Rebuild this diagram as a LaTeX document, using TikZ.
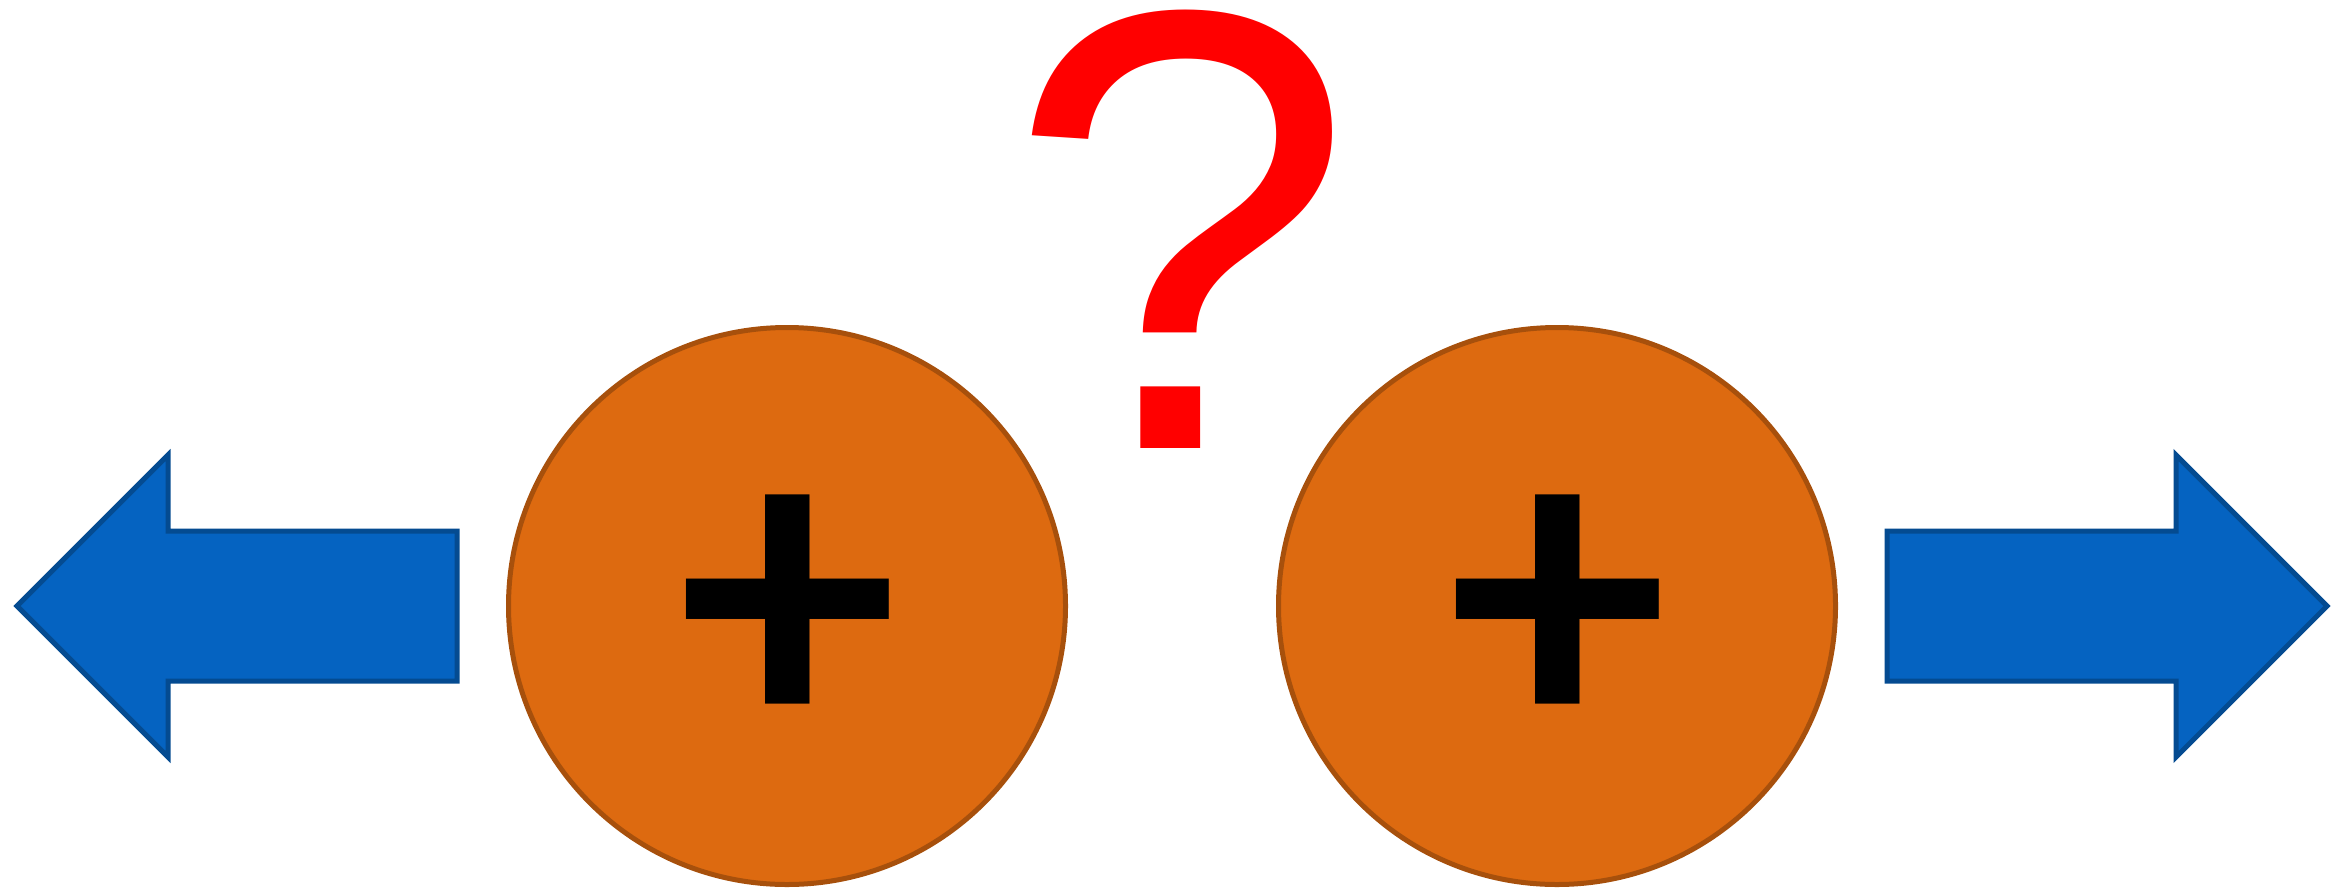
\documentclass[tikz,border=0pt]{standalone}
\usepackage{fontspec}
\newfontfamily\qfont{Liberation Sans}
\newfontfamily\pfont{Carlito}
\definecolor{arrowfill}{RGB}{5,99,193}
\definecolor{arrowline}{RGB}{4,75,145}
\definecolor{ballfill}{RGB}{221,106,16}
\definecolor{ballline}{RGB}{167,80,12}
\definecolor{qred}{RGB}{255,0,0}
\tikzset{
  bigarrow/.style={fill=arrowfill, draw=arrowline, line width=5pt, line join=miter},
  ball/.style={circle, fill=ballfill, draw=ballline, line width=5pt, minimum size=557pt, inner sep=0pt},
  charge/.style={inner sep=0pt, font=\pfont\bfseries\fontsize{440}{440}\selectfont},
  query/.style={inner sep=0pt, text=qred, font=\qfont\fontsize{628}{628}\selectfont}
}
\begin{document}
\begin{tikzpicture}[x=1pt,y=-1pt]
\useasboundingbox (0,0) rectangle (2344,892);
% left arrow
\draw[bigarrow] (17,606) -- (168,455) -- (168,531) -- (457,531) -- (457,681) -- (168,681) -- (168,757) -- cycle;
% right arrow
\draw[bigarrow] (2327,606) -- (2176,455) -- (2176,531) -- (1887,531) -- (1887,681) -- (2176,681) -- (2176,757) -- cycle;
% balls
\node[ball] (b1) at (787,606) {};
\node[ball] (b2) at (1557,606) {};
\node[charge] (p1) at (788,617) {+};
\node[charge] (p2) at (1558,617) {+};
% question mark
\node[query, anchor=base] (q) at (1181,448) {?};
\end{tikzpicture}
\end{document}
